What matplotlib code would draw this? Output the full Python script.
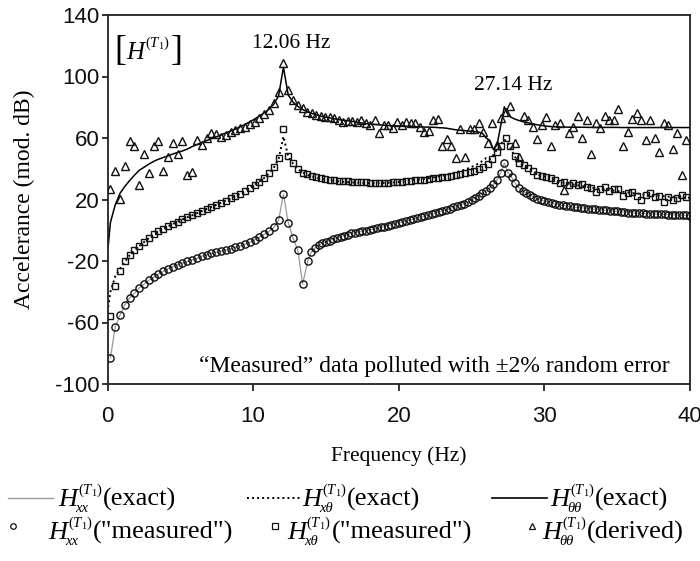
import numpy as np
import matplotlib
matplotlib.use("Agg")
import matplotlib.pyplot as plt
from matplotlib.lines import Line2D

plt.rcParams['axes.unicode_minus'] = False
plt.rcParams['mathtext.fontset'] = 'custom'
plt.rcParams['mathtext.rm'] = 'Liberation Serif'
plt.rcParams['mathtext.it'] = 'Liberation Serif:italic'
plt.rcParams['mathtext.bf'] = 'Liberation Serif:bold'

SERIF = ['Liberation Serif', 'DejaVu Serif']
SANS = ['Liberation Sans', 'DejaVu Sans']

# ---------------- data ----------------
# frequency grids (Hz)
f_low = 0.2 + 0.33 * np.arange(41)          # shared low-frequency grid (0.2 .. 13.4)
f_high_c = 13.75 + 0.25 * np.arange(106)    # circles / exact lines (13.75 .. 40)
f_high_st = 13.7 + 0.31 * np.arange(85)     # squares / triangles (13.7 .. 39.74)
f_start = [0.05]

# H_xx (dB) - exact and "measured" coincide visually
hxx_low = [-83, -63, -55, -48.5, -44, -41, -37.5, -35, -32.5, -30.5,
           -28.5, -26.7, -25, -23.6, -22.4, -21.3, -20.3, -19.3, -18.3, -16.8,
           -16.1, -15, -14.3, -13.5, -12.8, -12.2, -11.1, -10.4, -9, -7.8,
           -6.2, -4.6, -2.6, -0.6, 1.8, 6.5, 23.5, 5, -5, -13,
           -35]
hxx_high = [-20, -14, -11.5, -9.8, -8.4, -7.5, -6.7, -5.9, -5.1, -4.4,
            -3.6, -2.8, -2, -1.5, -1.1, -0.8, -0.3, 0.2, 0.6, 1.2,
            1.8, 2.4, 3, 3.6, 4.3, 5, 5.4, 6, 6.6, 7.1,
            7.7, 8.4, 9.1, 9.7, 10.3, 11, 11.9, 12.5, 13.2, 14,
            14.8, 15.5, 16.3, 17.3, 18.4, 19.6, 21, 22.6, 24.1, 25.7,
            27.8, 29.8, 33, 37.5, 43.5, 37.5, 34.5, 30.5, 27.8, 25.8,
            24.2, 23, 21.6, 20.5, 19.6, 19, 18.2, 17.6, 17, 16.5,
            16.1, 15.8, 15.5, 15.1, 14.8, 14.6, 14.4, 14.1, 13.9, 13.6,
            13.4, 13.2, 12.9, 12.7, 12.5, 12.2, 12, 11.8, 11.5, 11.3,
            11.2, 11, 10.9, 10.7, 10.6, 10.5, 10.4, 10.4, 10.3, 10.2,
            10.1, 9.9, 9.8, 9.7, 9.6, 9.5]

# H_x-theta exact (dB), on [f_start, f_low, f_high_c]
hxt_exact_start = [-50]
hxt_exact_low = [-40, -30, -25, -20.5, -16.3, -13.2, -10.3, -7.7, -5.1, -2.8,
                 -0.8, 1, 2.6, 4.1, 5.6, 7, 8.4, 9.7, 11.1, 12.5,
                 13.9, 15.2, 16.5, 17.9, 19.3, 20.7, 22.2, 23.8, 25.5, 27.4,
                 29.5, 31.7, 34, 37, 40.6, 46.5, 61, 48, 43.3, 40,
                 37.6]
hxt_exact_high = [35.9, 35.1, 34.4, 33.8, 33.3, 32.9, 32.5, 32.2, 31.9, 31.7,
                  31.5, 31.3, 31.1, 31, 30.9, 30.8, 30.7, 30.7, 30.6, 30.6,
                  30.7, 30.8, 30.9, 31, 31.2, 31.4, 31.6, 31.9, 32.2, 32.5,
                  32.8, 33.1, 33.4, 33.8, 34.2, 34.6, 35, 35.5, 36, 36.5,
                  37.1, 37.8, 38.5, 39.3, 40.2, 41.2, 42.3, 43.6, 45.1, 46.9,
                  46, 49, 52.5, 55.5, 59, 57, 52, 47.5, 44.5, 42.8,
                  41.3, 39.8, 38.5, 36.5, 35.6, 35, 34.2, 33.4, 32.5, 31.5,
                  31, 30.5, 30.1, 29.7, 29.3, 28.9, 28.5, 28.1, 27.7, 27.3,
                  27, 26.7, 26.4, 26.1, 25.8, 25.5, 25.2, 24.9, 24.6, 24.3,
                  24, 23.7, 23.4, 23.1, 22.9, 22.7, 22.5, 22.3, 22.1, 21.9,
                  21.7, 21.5, 21.4, 21.3, 21.2, 21.1]

# H_theta-theta exact (dB), on [f_start, f_low, f_high_c]
htt_exact_start = [-10]
htt_exact_low = [5, 16.5, 24, 28.5, 32.3, 35.8, 39, 41, 43, 44.8,
                 46.2, 47.3, 48.4, 49.6, 50.6, 51.6, 52.8, 54.4, 55.7, 57,
                 58.3, 59.5, 60.7, 62, 63.2, 64.5, 65.8, 67.3, 68.8, 70.5,
                 72.3, 74.3, 76.3, 78.8, 82, 87.5, 106, 88, 83.3, 80.6,
                 78.6]
htt_exact_high = [76.9, 76.1, 75.3, 74.6, 74, 73.5, 73.1, 72.6, 72.2, 71.8,
                  71.5, 71.2, 70.9, 70.5, 70.1, 69.7, 69.4, 69.1, 68.9, 68.7,
                  68.5, 68.3, 68.1, 68, 67.9, 67.8, 67.7, 67.6, 67.5, 67.4,
                  67.3, 67.2, 67.1, 67.1, 67, 66.9, 66.7, 66.6, 66.4, 66,
                  65.6, 65.2, 65, 64.8, 64.6, 64.4, 64.2, 63.8, 63, 60,
                  58.5, 52.5, 55.5, 68, 80.3, 75, 73.3, 72.2, 71.4, 70.7,
                  70.1, 69.6, 69.1, 68.6, 68.2, 67.9, 67.6, 67.4, 67.3, 67.2,
                  67.1, 67.1, 67, 67, 67, 67, 67, 66.9, 66.9, 66.9,
                  66.9, 66.9, 66.9, 66.9, 66.9, 66.9, 66.8, 66.8, 66.8, 66.8,
                  66.8, 66.8, 66.8, 66.8, 66.8, 66.8, 66.8, 66.8, 66.8, 66.8,
                  66.8, 66.8, 66.8, 66.8, 66.8, 66.8]

# H_x-theta "measured" (dB), on [f_low, f_high_st]
hxt_meas_low = [-55.5, -36, -26.5, -20, -16, -13, -10, -7.5, -4.8, -2.2,
                -0.3, 1, 2.7, 4.2, 5.6, 7, 8.4, 9.6, 11.2, 12.6,
                13.9, 15.3, 16.4, 17.9, 19.2, 20.7, 22.2, 23.7, 25.4, 27.3,
                29.5, 31.5, 33.8, 37, 41, 47, 66, 48, 43.5, 40,
                37.4]
hxt_meas_high = [36.8, 35.5, 34.7, 34.1, 33.5, 33, 32.6, 32.3, 32, 31.8,
                 31.6, 31.5, 31.3, 31.1, 31, 30.9, 30.9, 30.9, 31, 31.2,
                 31.4, 31.7, 31.9, 32.1, 32.4, 32.7, 33, 33.3, 33.7, 34.1,
                 34.5, 34.9, 35.3, 35.8, 36.4, 37, 37.7, 38.6, 39.7, 41,
                 43, 46.5, 51, 55, 60, 55, 48, 44, 42.5, 40.5,
                 38.5, 36, 35.5, 34.8, 33.8, 32.5, 31, 31.6, 29.4, 31,
                 29.5, 30.1, 28, 27.3, 25.1, 27, 28.3, 25.5, 27, 26.9,
                 22.4, 24.5, 25.1, 22, 19.7, 23, 24, 21.5, 22.5, 18.6,
                 21.8, 19.7, 21, 23, 21.5]

# H_theta-theta derived (dB), on [f_low, f_high_st]
htt_der_low = [26.6, 38.7, 20.3, 41.8, 58, 54.8, 29.4, 49.6, 37.4, 54.8,
               58, 38.7, 47.4, 56.9, 49.6, 58, 35.9, 38.1, 58.7, 55.4,
               59.8, 63.4, 62.6, 60.8, 62, 64.1, 65.2, 66.3, 67.4, 68.9,
               70.6, 72.8, 75.4, 78.2, 82.6, 90.1, 109, 91.2, 84.7, 81.5,
               79.3]
htt_der_high = [77.1, 76, 75, 74.3, 73.9, 73.5, 72.8, 71.7,
                70.6, 71, 71, 70.5, 71.7, 69.5, 68.5, 71.7, 63.5, 68.5,
                68.5, 66.3, 70.6, 68.5, 70.6, 70, 70, 67.4, 64.1, 64.4,
                71.7, 72.2, 55, 59.3, 55, 46.8, 65.8, 47.5, 65.8, 66,
                70, 64.1, 56.5, 69.5, 55.4, 72.8, 77.1, 80.8, 56.9, 47.4,
                74.5, 71.7, 67.4, 59.2, 68.5, 73.5, 54.8, 68.5, 70, 26,
                63, 67, 74.5, 59.8, 71.7, 49.6, 69.6, 66.3, 74.3, 71.7,
                71.5, 78.7, 54.8, 63.6, 72.2, 76.1, 71.5, 58.7, 71.5, 59.8,
                51.1, 69.6, 68.5, 52.6, 63, 35.9, 58.7]

x_ticks = [0, 10, 20, 30, 40]
y_ticks = [-100, -60, -20, 20, 60, 100, 140]
peak_labels = ['12.06 Hz', '27.14 Hz']

# ---------------- assemble ----------------
f_circ = np.concatenate([f_low, f_high_c])
f_line = np.concatenate([f_start, f_low, f_high_c])
f_st = np.concatenate([f_low, f_high_st])
hxx = np.array(hxx_low + hxx_high)
hxt_exact = np.array(hxt_exact_start + hxt_exact_low + hxt_exact_high)
htt_exact = np.array(htt_exact_start + htt_exact_low + htt_exact_high)
hxt_meas = np.array(hxt_meas_low + hxt_meas_high)
htt_der = np.array(htt_der_low + htt_der_high)

W, H = 700, 561
fig = plt.figure(figsize=(W / 100, H / 100), dpi=100)
renderer = fig.canvas.get_renderer()


def fx(px):
    return px / W


def fy(py):
    return 1 - py / H


ax = fig.add_axes([fx(107.5), fy(384), (690 - 107.5) / W, (384 - 15) / H])

grey = '#9a9a9a'
ax.plot(f_circ, hxx, color=grey, lw=0.9, zorder=2)
ax.plot(f_line, hxt_exact, color='black', lw=1.4, ls=(0, (1, 1.6)), zorder=2)
ax.plot(f_line, htt_exact, color='black', lw=1.1, zorder=2)

mk = dict(ls='none', mfc='none', mec='#111111', mew=1.0, zorder=3)
ax.plot(f_circ, hxx, marker='o', ms=5.2, **mk)
ax.plot(f_st, hxt_meas, marker='s', ms=5.0, **mk)
ax.plot(f_st, htt_der, marker='^', ms=5.4, **mk)

ax.set_xlim(0, 40)
ax.set_ylim(-100, 140)
ax.set_xticks(x_ticks)
ax.set_yticks(y_ticks)
ax.set_xticklabels([str(v) for v in x_ticks], fontfamily=SANS, fontsize=16)
ax.set_yticklabels([str(v) for v in y_ticks], fontfamily=SANS, fontsize=16)
ax.tick_params(axis='x', direction='out', length=5, width=1.2, pad=11.0, colors='#111111')
ax.tick_params(axis='y', direction='out', length=4, width=1.2, pad=2.0, colors='#111111')
for s in ax.spines.values():
    s.set_linewidth(1.3)
    s.set_color('#222222')

# ---------------- texts ----------------
fig.text(fx(24), fy(199), 'Accelerance (mod. dB)', rotation=90, ha='center', va='center',
         fontfamily=SERIF, fontsize=17)
fig.text(fx(399), fy(456), 'Frequency (Hz)', ha='center', va='center',
         fontfamily=SERIF, fontsize=15.5)
fig.text(fx(291), fy(44), peak_labels[0], ha='center', va='center', fontfamily=SERIF, fontsize=15.5)
fig.text(fx(513), fy(86), peak_labels[1], ha='center', va='center', fontfamily=SERIF, fontsize=15.5)
fig.text(fx(670), fy(372), '\u201cMeasured\u201d data polluted with \u00b12% random error',
         ha='right', va='baseline', fontfamily=SERIF, fontsize=17)


def put(x_px, base_px, s, size, **kw):
    t = fig.text(fx(x_px), fy(base_px), s, ha='left', va='baseline',
                 fontfamily=SERIF, fontsize=size, **kw)
    return t, t.get_window_extent(renderer)


def h_label(x_px, base_px, sub, tail, size=19.0, ssize=10.5, sup_dy=12.0, sub_dy=6.0):
    """H with superscript (T1), optional subscript, then a tail text."""
    _, bh = put(x_px, base_px, 'H', size, fontstyle='italic')
    xe = bh.x1
    _, bs = put(xe + 0.5, base_px - sup_dy, r'$(T_1)$', ssize)
    x2 = bs.x1
    if sub:
        _, bb = put(xe - 1.5, base_px + sub_dy, sub, ssize, fontstyle='italic')
        x2 = max(x2, bb.x1)
    if tail:
        put(x2 + 0.5, base_px, tail, size)


# [H^(T1)] box label
_, b1 = put(114, 60, '[', 26)
_, b2 = put(b1.x1 + 0.5, 59, 'H', 18, fontstyle='italic')
_, b3 = put(b2.x1 + 0.5, 47, r'$(T_1)$', 10.5)
put(b3.x1 + 1.5, 60, ']', 26)

# legend (two rows, manual layout)
row1_line_y, row1_base = 498, 505.5
row2_mk_y, row2_base = 526, 539
fig.add_artist(Line2D([fx(8), fx(53)], [fy(row1_line_y)] * 2, transform=fig.transFigure,
                      color=grey, lw=1.0))
fig.add_artist(Line2D([fx(247), fx(302)], [fy(row1_line_y)] * 2, transform=fig.transFigure,
                      color='black', lw=1.4, ls=(0, (1, 1.6))))
fig.add_artist(Line2D([fx(492), fx(547)], [fy(row1_line_y)] * 2, transform=fig.transFigure,
                      color='black', lw=1.2))
h_label(58, row1_base, 'xx', '(exact)')
h_label(302, row1_base, 'x\u03b8', '(exact)')
h_label(550, row1_base, '\u03b8\u03b8', '(exact)')

lmk = dict(ls='none', mfc='none', mec='#111111', mew=0.9, transform=fig.transFigure)
fig.add_artist(Line2D([fx(13)], [fy(row2_mk_y)], marker='o', ms=4.0, **lmk))
fig.add_artist(Line2D([fx(275)], [fy(row2_mk_y)], marker='s', ms=4.0, **lmk))
fig.add_artist(Line2D([fx(532)], [fy(row2_mk_y)], marker='^', ms=4.0, **lmk))
h_label(48, row2_base, 'xx', '("measured")')
h_label(287, row2_base, 'x\u03b8', '("measured")')
h_label(542, row2_base, '\u03b8\u03b8', '(derived)')

fig.savefig('out.png', dpi=100)
